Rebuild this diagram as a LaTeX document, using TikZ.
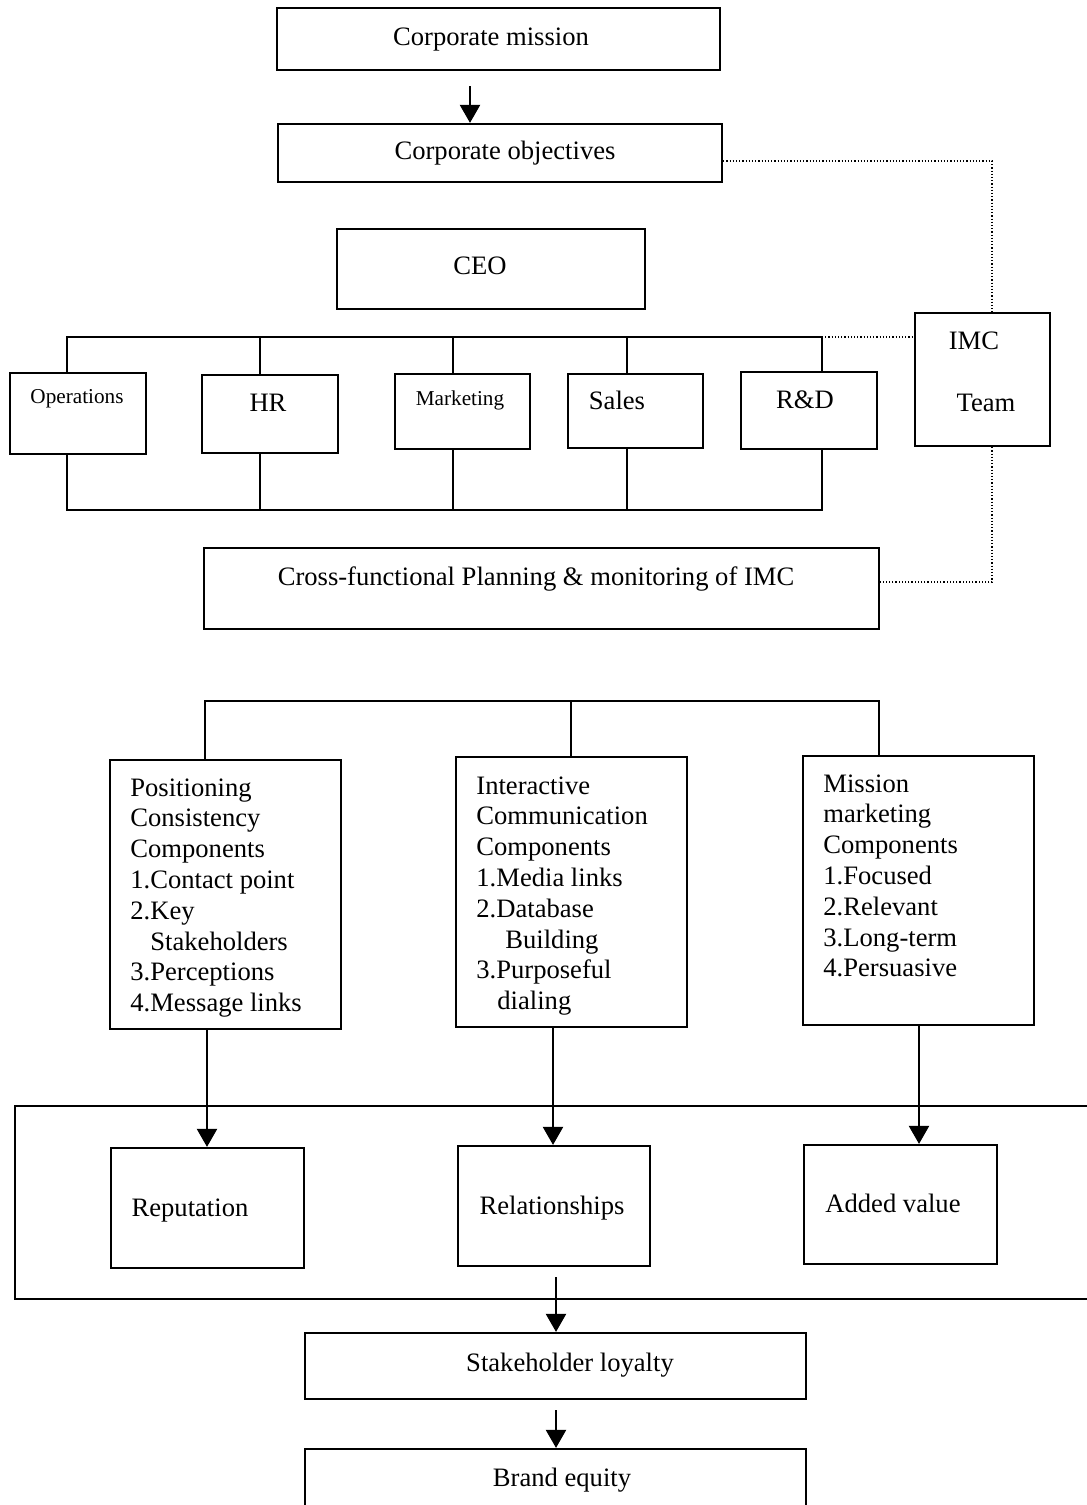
\documentclass[tikz,border=0pt]{standalone}
\usepackage{fontspec}
\setmainfont{Liberation Serif}
\usetikzlibrary{arrows.meta,fit}
\begin{document}
\begin{tikzpicture}[x=0.5pt,y=-0.5pt,
  box/.style={draw, line width=1.1pt, inner sep=0pt},
  lbl/.style={inner sep=0pt, anchor=base, font=\fontsize{13.3}{15.4}\selectfont},
  small/.style={inner sep=0pt, anchor=base, font=\fontsize{10.6}{12.6}\selectfont},
  list/.style={inner sep=0pt, anchor=north west, align=left, font=\fontsize{13.3}{15.4}\selectfont},
  link/.style={line width=1.1pt},
  dot/.style={line width=0.6pt, densely dotted},
  arr/.style={line width=1.1pt, -{Triangle[width=10pt,length=9pt]}}]
\clip (0,0) rectangle (1087,1505);
\fill[white] (0,0) rectangle (1087,1505);

% top of the chart
\node[box, fit={(277,8) (720,70)}] (mission) {};
\node[lbl] (missionT) at (491,45) {Corporate mission};
\node[box, fit={(278,124) (722,182)}] (objectives) {};
\node[lbl] (objectivesT) at (505,159) {Corporate objectives};
\node[box, fit={(337,229) (645,309)}] (ceo) {};
\node[lbl] (ceoT) at (480,274) {CEO};
\coordinate (arrA) at (470,86);
\draw[arr] (arrA) -- (arrA |- objectives.north);

% functional departments
\node[box, fit={(10,373) (146,454)}] (ops) {};
\node[small] (opsT) at (77,403) {Operations};
\node[box, fit={(202,375) (338,453)}] (hr) {};
\node[lbl] (hrT) at (268,411) {HR};
\node[box, fit={(395,374) (530,449)}] (mkt) {};
\node[small] (mktT) at (460,405) {Marketing};
\node[box, fit={(568,374) (703,448)}] (sales) {};
\node[lbl] (salesT) at (617,409) {Sales};
\node[box, fit={(741,372) (877,449)}] (rd) {};
\node[lbl] (rdT) at (805,408) {R\&D};
\node[box, fit={(915,313) (1050,446)}] (imc) {};
\node[lbl] (imcT1) at (974,349) {IMC};
\node[lbl] (imcT2) at (986,411) {Team};

\coordinate (busTL) at (67,337);
\coordinate (busTR) at (822,337);
\coordinate (busBL) at (67,510);
\coordinate (busBR) at (822,510);
\draw[link] (ops.north -| busTL) -- (busTL) -- (busTR) -- (rd.north -| busTR);
\draw[link] (ops.south -| busBL) -- (busBL) -- (busBR) -- (rd.south -| busBR);
\foreach \n/\x in {hr/260, mkt/453, sales/627} {
  \draw[link] (\n.north -| \x,0) -- (\x,337);
  \draw[link] (\n.south -| \x,0) -- (\x,510);
}
\draw[dot] (busTR) -- (imc.west |- busTR);

% planning box and the dotted IMC links
\node[box, fit={(204,548) (879,629)}] (cross) {};
\node[lbl] (crossT) at (536,585) {Cross-functional Planning \& monitoring of IMC};
\coordinate (dotA) at (992,161);
\coordinate (dotB) at (992,582);
\draw[dot] (objectives.east |- dotA) -- (dotA) -- (imc.north -| dotA);
\draw[dot] (imc.south -| dotB) -- (dotB) -- (cross.east |- dotB);

% IMC components
\node[box, fit={(110,760) (341,1029)}] (pos) {};
\node[list] (posT) at (130,778) {Positioning\\Consistency\\Components\\1.Contact point\\2.Key\\\hspace*{10pt}Stakeholders\\3.Perceptions\\4.Message links};
\node[box, fit={(456,757) (687,1027)}] (inter) {};
\node[list] (interT) at (476,776) {Interactive\\Communication\\Components\\1.Media links\\2.Database\\\hspace*{14.5pt}Building\\3.Purposeful\\\hspace*{10.5pt}dialing};
\node[box, fit={(803,756) (1034,1025)}] (mm) {};
\node[list] (mmT) at (823,774) {Mission\\marketing\\Components\\1.Focused\\2.Relevant\\3.Long-term\\4.Persuasive};

\coordinate (busCL) at (205,701);
\coordinate (busCM) at (571,701);
\coordinate (busCR) at (879,701);
\draw[link] (pos.north -| busCL) -- (busCL) -- (busCR) -- (mm.north -| busCR);
\draw[link] (busCM) -- (inter.north -| busCM);

% outcomes
\draw[link] (1087,1106) -- (15,1106) -- (15,1299) -- (1087,1299);
\node[box, fit={(111,1148) (304,1268)}] (rep) {};
\node[lbl] (repT) at (190,1216) {Reputation};
\node[box, fit={(458,1146) (650,1266)}] (rel) {};
\node[lbl] (relT) at (552,1214) {Relationships};
\node[box, fit={(804,1145) (997,1264)}] (av) {};
\node[lbl] (avT) at (893,1212) {Added value};

\coordinate (arrP) at (207,0);
\coordinate (arrI) at (553,0);
\coordinate (arrM) at (919,0);
\draw[arr] (pos.south -| arrP) -- (rep.north -| arrP);
\draw[arr] (inter.south -| arrI) -- (rel.north -| arrI);
\draw[arr] (mm.south -| arrM) -- (av.north -| arrM);

\node[box, fit={(305,1333) (806,1399)}] (loyal) {};
\node[lbl] (loyalT) at (570,1371) {Stakeholder loyalty};
\node[box, fit={(305,1449) (806,1530)}] (equity) {};
\node[lbl] (equityT) at (562,1486) {Brand equity};

\coordinate (arrL) at (556,1277);
\coordinate (arrE) at (556,1410);
\draw[arr] (arrL) -- (loyal.north -| arrL);
\draw[arr] (arrE) -- (equity.north -| arrE);
\end{tikzpicture}
\end{document}
